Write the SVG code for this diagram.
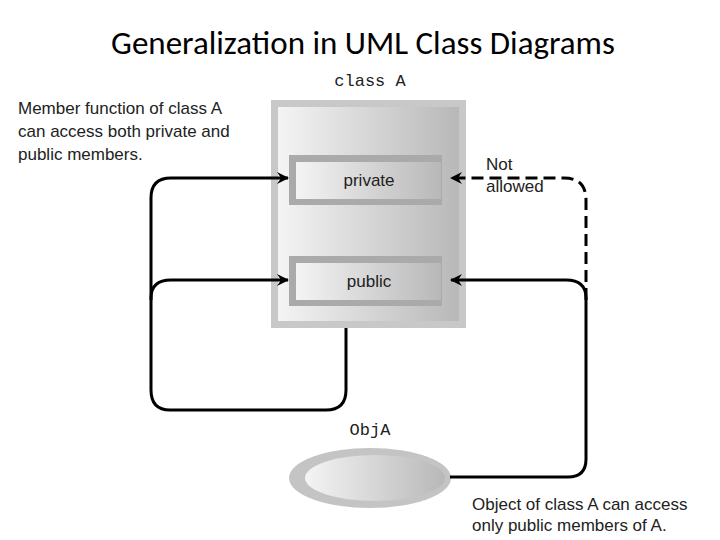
<svg xmlns="http://www.w3.org/2000/svg" width="720" height="540" viewBox="0 0 720 540">
<defs>
<linearGradient id="g" x1="0" y1="0" x2="1" y2="0"><stop offset="0" stop-color="#f4f4f4"/><stop offset="1" stop-color="#b8b8b8"/></linearGradient>
<marker id="ar" viewBox="0 0 12 12" refX="11" refY="6" markerWidth="12" markerHeight="12" markerUnits="userSpaceOnUse" orient="auto"><path d="M0,0 L12,6 L0,12 L4,6 Z" fill="#000"/></marker>
</defs>
<style>
.t{font-family:"Liberation Sans",Arial,sans-serif;font-size:17px;fill:#222}
.m{font-family:"Liberation Mono","DejaVu Sans Mono",monospace;font-size:17px;fill:#222}
.c{fill:none;stroke:#000;stroke-width:3}
</style>
<rect width="720" height="540" fill="#fff"/>
<text x="363" y="54" text-anchor="middle" font-family="Calibri,Carlito,'Open Sans',sans-serif" font-size="33" fill="#000">Generalization in UML Class Diagrams</text>
<g id="classA">
<text class="m" x="370" y="86" text-anchor="middle">class A</text>
<rect x="271" y="100" width="195" height="228" fill="#c8c8c8"/>
<rect x="278" y="107" width="181" height="214" fill="url(#g)"/>
<g id="private"><rect x="289" y="155" width="153" height="50" fill="#aaa"/><rect x="296" y="162" width="145" height="37" fill="url(#g)"/><text class="t" x="369" y="186" text-anchor="middle">private</text></g>
<g id="public"><rect x="289" y="256" width="153" height="50" fill="#aaa"/><rect x="296" y="263" width="145" height="37" fill="url(#g)"/><text class="t" x="369" y="287" text-anchor="middle">public</text></g>
</g>
<g id="objA">
<text class="m" x="370" y="435" text-anchor="middle">ObjA</text>
<ellipse cx="370" cy="478" rx="81" ry="30" fill="#c4c4c4"/>
<ellipse cx="375" cy="478" rx="70" ry="23" fill="url(#g)"/>
</g>
<g id="notes">
<text class="t" x="18" y="114">Member function of class A</text>
<text class="t" x="18" y="137">can access both private and</text>
<text class="t" x="18" y="160">public members.</text>
<text class="t" x="486" y="170">Not</text>
<text class="t" x="486" y="192">allowed</text>
<text class="t" x="472" y="510">Object of class A can access</text>
<text class="t" x="472" y="531">only public members of A.</text>
</g>
<g id="connectors">
<path class="c" d="M346,328 V390 Q346,410 326,410 H170 Q151,410 151,390 V298 Q151,280 171,280 H288" marker-end="url(#ar)"/>
<path class="c" d="M151,300 V198 Q151,178 171,178 H288" marker-end="url(#ar)"/>
<path class="c" d="M450,477 H568 Q586,477 586,459 V298 Q586,280 566,280 H451" marker-end="url(#ar)"/>
<path class="c" d="M586,300 V200 Q586,178 564,178 H451" stroke-dasharray="12,6" marker-end="url(#ar)"/>
</g>
</svg>
